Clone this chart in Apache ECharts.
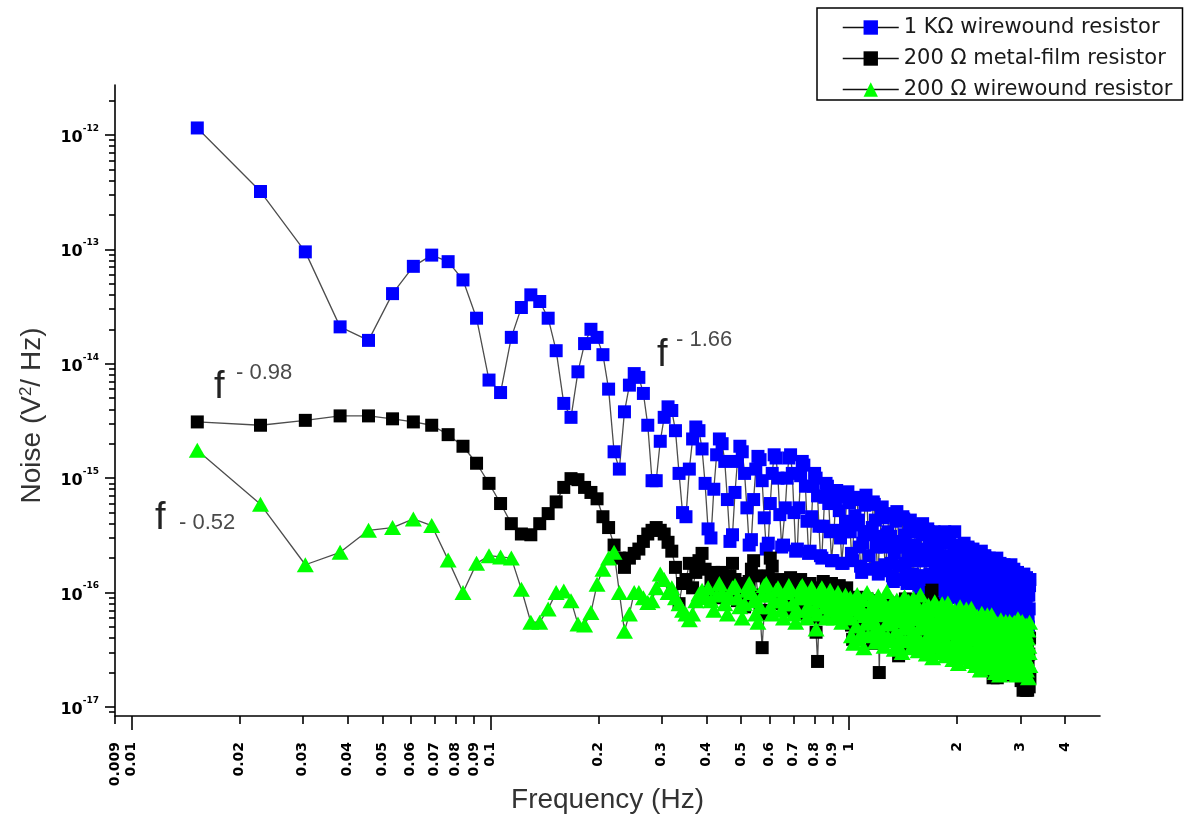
<!DOCTYPE html>
<html>
<head>
<meta charset="utf-8">
<script src="https://cdn.jsdelivr.net/npm/echarts@6/dist/echarts.min.js"></script>
<style>
html,body{margin:0;padding:0;background:#fff;}
#chart{width:1194px;height:816px;}
</style>
</head>
<body>
<div id="chart"></div>
<script>
// Frequency bins: uniform FFT grid, first plotted bin is bin #2
const BIN_WIDTH_HZ = 0.00763;
const FIRST_BIN = 2;

// 1 KΩ wirewound resistor (V^2/Hz), one value per bin
const blueNoise = [
1.15e-12,3.2e-13,9.5e-14,2.1e-14,1.6e-14,4.1e-14,7.1e-14,8.9e-14,7.8e-14,5.4e-14,2.5e-14,7.2e-15,5.6e-15,
1.7e-14,3.1e-14,4.0e-14,3.5e-14,2.5e-14,1.3e-14,4.5e-15,3.4e-15,8.5e-15,1.5e-14,2.0e-14,1.7e-14,1.2e-14,6.0e-15,1.7e-15,1.2e-15,3.8e-15,6.5e-15,8.2e-15,7.6e-15,5.5e-15,2.9e-15,9.5e-16,
9.5e-16,2.1e-15,3.4e-15,4.2e-15,3.9e-15,2.6e-15,1.1e-15,5.0e-16,
4.6e-16,1.2e-15,2.2e-15,2.8e-15,2.6e-15,1.8e-15,9.0e-16,3.6e-16,
3.0e-16,8.0e-16,1.6e-15,2.2e-15,2.0e-15,1.4e-15,6.5e-16,2.8e-16,
3.2e-16,7.5e-16,1.4e-15,1.9e-15,1.7e-15,1.1e-15,5.5e-16,2.6e-16,
2.9e-16,6.5e-16,1.2e-15,1.55e-15,1.45e-15,9.5e-16,4.5e-16,2.4e-16,
2.7e-16,6.0e-16,1.1e-15,1.6e-15,1.5e-15,1.0e-15,4.8e-16,2.5e-16,
2.6e-16,5.5e-16,1.0e-15,1.5e-15,1.6e-15,1.1e-15,5.0e-16,2.3e-16,
2.4e-16,5.5e-16,1.05e-15,1.4e-15,1.3e-15,8.5e-16,4.2e-16,2.2e-16,
2.3e-16,4.6e-16,8.5e-16,1.1e-15,1.0e-15,7.0e-16,3.8e-16,2.1e-16,
2.0e-16,3.8e-16,6.8e-16,9.0e-16,8.5e-16,6.0e-16,3.4e-16,1.9e-16,
1.9e-16,3.5e-16,6.0e-16,7.8e-16,7.4e-16,5.2e-16,3.0e-16,1.8e-16,
1.8e-16,3.4e-16,4.2e-16,6.8e-16,7.6e-16,6.1e-16,3.4e-16,2.2e-16,
1.9e-16,3.9e-16,4.7e-16,6.8e-16,6.5e-16,4.3e-16,2.5e-16,1.7e-16,
1.5e-16,2.7e-16,3.4e-16,5.8e-16,7.1e-16,6.1e-16,3.4e-16,2.1e-16,
1.6e-16,3.2e-16,3.7e-16,6.2e-16,5.9e-16,4.3e-16,2.5e-16,1.65e-16,
1.45e-16,2.8e-16,3.1e-16,5.0e-16,5.6e-16,4.5e-16,2.5e-16,1.75e-16,
1.55e-16,3.2e-16,3.4e-16,4.9e-16,4.7e-16,3.1e-16,1.8e-16,1.4e-16,
1.25e-16,2.2e-16,2.5e-16,4.2e-16,5.1e-16,4.4e-16,2.5e-16,1.7e-16,
1.3e-16,2.6e-16,2.8e-16,4.6e-16,4.4e-16,3.2e-16,1.8e-16,1.4e-16,
1.2e-16,2.3e-16,2.4e-16,3.9e-16,4.3e-16,3.4e-16,1.9e-16,1.45e-16,
1.25e-16,2.6e-16,2.6e-16,3.8e-16,3.6e-16,2.4e-16,1.4e-16,1.15e-16,
1.05e-16,1.9e-16,1.9e-16,3.2e-16,4.0e-16,3.4e-16,1.9e-16,1.4e-16,
1.1e-16,2.2e-16,2.2e-16,3.6e-16,3.4e-16,2.5e-16,1.45e-16,1.15e-16,
1.0e-16,1.9e-16,1.9e-16,3.1e-16,3.4e-16,2.7e-16,1.55e-16,1.2e-16,
1.08e-16,2.25e-16,2.1e-16,3.1e-16,3.0e-16,2.0e-16,1.15e-16,9.8e-17,
9.0e-17,1.6e-16,1.6e-16,2.7e-16,3.4e-16,2.9e-16,1.6e-16,1.25e-16,
9.7e-17,1.9e-16,1.8e-16,3.0e-16,2.9e-16,2.1e-16,1.2e-16,1.0e-16,
9.0e-17,1.7e-16,1.6e-16,2.6e-16,3.4e-16,2.3e-16,1.3e-16,1.1e-16,
9.6e-17,2.0e-16,1.75e-16,2.55e-16,2.4e-16,1.6e-16,9.5e-17,8.7e-17,
8.0e-17,1.45e-16,1.3e-16,2.2e-16,2.7e-16,2.35e-16,1.3e-16,1.1e-16,
8.6e-17,1.7e-16,1.5e-16,2.5e-16,2.4e-16,1.75e-16,1.0e-16,9.0e-17,
8.0e-17,1.5e-16,1.3e-16,2.15e-16,2.4e-16,1.9e-16,1.1e-16,9.6e-17,
8.6e-17,1.8e-16,1.5e-16,2.2e-16,2.05e-16,1.4e-16,8.0e-17,7.8e-17,
7.1e-17,1.3e-16,1.1e-16,1.9e-16,2.3e-16,2.0e-16,1.1e-16,9.8e-17,
7.7e-17,1.5e-16,1.25e-16,2.1e-16,2.0e-16,1.5e-16,8.4e-17,8.0e-17,
7.1e-17,1.35e-16,1.1e-16,1.8e-16,2.0e-16,1.6e-16,9.0e-17,8.5e-17,
7.6e-17,1.6e-16,1.3e-16,1.85e-16,1.75e-16,1.2e-16,6.8e-17,6.9e-17,
6.4e-17,1.15e-16,9.5e-17,1.6e-16,2.0e-16,1.7e-16,9.5e-17,8.7e-17,
6.8e-17,1.35e-16,1.1e-16,1.8e-16,1.7e-16,1.25e-16,7.2e-17,7.1e-17,
6.3e-17,1.2e-16,9.6e-17,1.6e-16,1.75e-16,1.4e-16,7.9e-17,7.6e-17,
6.7e-17,1.4e-16,1.1e-16,1.6e-16,1.55e-16,1.0e-16,6.0e-17,6.1e-17,
5.7e-17,1.0e-16,8.3e-17,1.4e-16,1.75e-16,1.5e-16,8.3e-17,7.8e-17,
6.1e-17,1.2e-16,9.6e-17,1.6e-16,1.5e-16,1.1e-16,6.4e-17,6.4e-17,
5.6e-17,1.05e-16,8.3e-17,1.35e-16,1.5e-16,1.2e-16,6.8e-17,6.7e-17,
6.0e-17,1.25e-16,9.4e-17,1.4e-16,1.3e-16,8.7e-17,5.1e-17,5.5e-17,
5.0e-17,9.0e-17,7.0e-17,1.2e-16,1.45e-16,1.25e-16,7.0e-17,6.9e-17,
5.5e-17,1.1e-16,8.1e-17,1.35e-16,1.3e-16,9.5e-17,5.4e-17,5.7e-17,
5.0e-17,9.5e-17,7.2e-17,1.15e-16,1.3e-16
];

// 200 Ω metal-film resistor (V^2/Hz)
const blackNoise = [
3.1e-15,2.9e-15,3.2e-15,3.5e-15,3.5e-15,3.3e-15,3.1e-15,2.9e-15,2.4e-15,1.9e-15,1.35e-15,9.0e-16,6.0e-16,4.0e-16,
3.25e-16,3.2e-16,4.0e-16,4.9e-16,6.2e-16,8.3e-16,9.9e-16,9.7e-16,8.3e-16,7.5e-16,6.6e-16,4.6e-16,3.7e-16,2.6e-16,2.0e-16,
1.66e-16,2.0e-16,2.2e-16,2.4e-16,2.8e-16,3.25e-16,3.5e-16,3.7e-16,3.5e-16,3.25e-16,2.75e-16,2.3e-16,1.66e-16,8.0e-17,1.2e-16,
1.3e-16,1.8e-16,1.1e-16,1.5e-16,1.9e-16,2.2e-16,1.6e-16,1.0e-16,1.3e-16,1.5e-16,
9.0e-17,1.2e-16,1.5e-16,1.1e-16,9.5e-17,1.4e-16,1.8e-16,1.3e-16,8.5e-17,1.0e-16,
1.2e-16,7.5e-17,9.0e-17,1.25e-16,1.6e-16,1.9e-16,1.4e-16,9.5e-17,6.5e-17,3.3e-17,
7.0e-17,1.1e-16,1.4e-16,2.0e-16,1.7e-16,1.2e-16,8.0e-17,9.5e-17,1.3e-16,1.1e-16,
8.5e-17,7.0e-17,1.0e-16,1.2e-16,1.35e-16,1.1e-16,9.0e-17,7.5e-17,8.5e-17,1.15e-16,
1.3e-16,1.0e-16,8.0e-17,6.5e-17,8.0e-17,1.0e-16,1.2e-16,1.05e-16,8.5e-17,6.0e-17,
4.5e-17,2.5e-17,6.0e-17,9.0e-17,1.1e-16,1.25e-16,1.0e-16,8.0e-17,7.0e-17,8.5e-17,
1.05e-16,1.2e-16,9.5e-17,7.5e-17,6.5e-17,8.0e-17,1.0e-16,1.15e-16,9.5e-17,7.5e-17,
6.0e-17,7.5e-17,9.0e-17,1.1e-16,9.0e-17,
6.5e-17,8.5e-17,5.2e-17,3.9e-17,7.2e-17,7.8e-17,5.9e-17,9.1e-17,4.9e-17,6.5e-17,7.5e-17,5.5e-17,8.1e-17,4.2e-17,6.8e-17,5.9e-17,8.8e-17,5.2e-17,7.2e-17,6.2e-17,7.0e-17,3.6e-17,5.5e-17,7.8e-17,4.6e-17,8.5e-17,5.8e-17,6.6e-17,2.0e-17,6.2e-17,
7.8e-17,4.8e-17,6.6e-17,4.2e-17,7.2e-17,5.4e-17,8.4e-17,4.5e-17,6.0e-17,6.9e-17,5.1e-17,7.5e-17,3.9e-17,6.3e-17,5.4e-17,8.1e-17,4.8e-17,6.6e-17,5.7e-17,2.8e-17,6.0e-17,7.4e-17,4.8e-17,6.6e-17,3.4e-17,7.2e-17,5.4e-17,8.8e-17,4.5e-17,6.0e-17,6.9e-17,5.1e-17,7.0e-17,3.9e-17,6.3e-17,5.4e-17,8.6e-17,4.8e-17,6.6e-17,5.7e-17,
5.5e-17,7.2e-17,4.4e-17,6.1e-17,3.9e-17,6.6e-17,5.0e-17,7.7e-17,4.1e-17,5.5e-17,6.3e-17,4.7e-17,6.9e-17,3.3e-17,5.8e-17,5.0e-17,7.4e-17,4.4e-17,6.0e-17,7.0e-17,8.5e-17,1.0e-16,1.05e-16,8.0e-17,5.2e-17,5.0e-17,7.7e-17,4.1e-17,5.5e-17,3.3e-17,6.3e-17,4.7e-17,6.9e-17,3.6e-17,5.8e-17,5.0e-17,7.4e-17,4.4e-17,6.1e-17,5.2e-17,
4.8e-17,6.2e-17,3.8e-17,5.3e-17,3.4e-17,5.8e-17,4.3e-17,6.7e-17,3.6e-17,4.8e-17,5.5e-17,4.1e-17,6.0e-17,3.1e-17,5.0e-17,4.3e-17,6.5e-17,3.8e-17,5.3e-17,4.6e-17,6.2e-17,3.8e-17,5.3e-17,3.4e-17,5.8e-17,4.3e-17,6.7e-17,3.6e-17,4.8e-17,5.5e-17,4.1e-17,6.0e-17,3.1e-17,5.0e-17,4.3e-17,6.5e-17,3.8e-17,5.3e-17,4.6e-17,4.4e-17,
4.2e-17,5.5e-17,3.4e-17,4.6e-17,2.9e-17,5.0e-17,3.8e-17,5.9e-17,3.2e-17,4.2e-17,4.8e-17,3.6e-17,5.3e-17,2.7e-17,4.4e-17,3.8e-17,5.7e-17,3.4e-17,4.6e-17,4.0e-17,5.5e-17,3.4e-17,4.6e-17,2.9e-17,5.0e-17,3.8e-17,5.9e-17,3.2e-17,4.2e-17,4.8e-17,3.6e-17,5.3e-17,2.7e-17,4.4e-17,3.8e-17,5.7e-17,3.4e-17,4.6e-17,4.0e-17,2.2e-17,
3.6e-17,4.7e-17,2.9e-17,4.0e-17,2.5e-17,4.3e-17,3.2e-17,5.0e-17,2.7e-17,1.8e-17,4.1e-17,3.1e-17,4.5e-17,2.3e-17,3.8e-17,3.2e-17,4.9e-17,2.9e-17,1.8e-17,3.4e-17,4.7e-17,2.9e-17,4.0e-17,2.5e-17,4.3e-17,3.2e-17,5.0e-17,2.7e-17,3.6e-17,4.1e-17,3.1e-17,4.5e-17,2.3e-17,3.8e-17,3.2e-17,4.9e-17,2.9e-17,4.0e-17,3.4e-17,3.0e-17,
3.0e-17,3.9e-17,2.4e-17,3.3e-17,2.1e-17,3.6e-17,2.7e-17,4.2e-17,2.3e-17,3.0e-17,3.5e-17,2.6e-17,3.8e-17,1.9e-17,3.2e-17,2.7e-17,4.1e-17,2.4e-17,3.3e-17,2.9e-17,3.9e-17,2.4e-17,3.3e-17,2.1e-17,3.6e-17,2.7e-17,4.2e-17,2.3e-17,3.0e-17,3.5e-17,
2.4e-17,3.1e-17,1.9e-17,2.6e-17,1.7e-17,2.9e-17,2.2e-17,3.4e-17,1.8e-17,1.4e-17,2.8e-17,2.0e-17,3.0e-17,1.5e-17,2.6e-17,2.2e-17,3.3e-17,1.4e-17,2.6e-17,2.3e-17,3.1e-17,1.4e-17,2.6e-17,1.7e-17,2.9e-17,1.5e-17,4.0e-17,1.8e-17
];

// 200 Ω wirewound resistor (V^2/Hz)
const greenNoise = [
1.75e-15,5.9e-16,1.75e-16,2.25e-16,3.5e-16,3.7e-16,4.4e-16,3.85e-16,1.93e-16,1.0e-16,1.8e-16,2.1e-16,2.05e-16,2.0e-16,
1.07e-16,5.5e-17,5.5e-17,7.2e-17,1.0e-16,1.03e-16,8.5e-17,5.3e-17,5.2e-17,6.7e-17,1.18e-16,1.6e-16,2.0e-16,2.25e-16,1.0e-16,4.6e-17,6.5e-17,1.0e-16,1.0e-16,9.0e-17,8.2e-17,8.5e-17,
1.1e-16,1.45e-16,1.3e-16,1.0e-16,1.1e-16,9.0e-17,8.0e-17,7.0e-17,6.5e-17,5.8e-17,
6.5e-17,8.5e-17,9.7e-17,1.05e-16,9.0e-17,1.1e-16,8.5e-17,7.0e-17,9.5e-17,1.2e-16,
1.0e-16,8.0e-17,6.5e-17,9.0e-17,1.1e-16,1.15e-16,9.0e-17,7.5e-17,6.0e-17,8.0e-17,
1.05e-16,1.2e-16,1.0e-16,8.5e-17,6.5e-17,5.5e-17,7.5e-17,9.5e-17,1.15e-16,1.2e-16,
9.5e-17,7.5e-17,6.5e-17,8.5e-17,1.05e-16,1.1e-16,8.5e-17,7.0e-17,6.0e-17,8.0e-17,
1.0e-16,1.15e-16,1.05e-16,8.0e-17,6.5e-17,5.5e-17,7.0e-17,9.0e-17,1.1e-16,1.15e-16,
9.0e-17,7.0e-17,6.0e-17,7.5e-17,9.5e-17,1.1e-16,9.0e-17,7.0e-17,4.8e-17,6.5e-17,
8.5e-17,1.05e-16,1.1e-16,9.0e-17,7.5e-17,6.0e-17,7.5e-17,9.5e-17,1.05e-16,8.5e-17,
7.0e-17,6.0e-17,7.0e-17,9.0e-17,1.0e-16,8.5e-17,7.0e-17,5.5e-17,6.5e-17,8.5e-17,
9.5e-17,8.0e-17,6.5e-17,
6.0e-17,9.0e-17,4.2e-17,7.2e-17,3.6e-17,8.1e-17,5.1e-17,9.6e-17,3.9e-17,6.6e-17,7.5e-17,4.5e-17,8.7e-17,3.3e-17,6.3e-17,5.4e-17,1.0e-16,4.2e-17,6.9e-17,5.7e-17,
6.2e-17,8.8e-17,4.4e-17,7.0e-17,3.7e-17,8.3e-17,5.0e-17,9.4e-17,4.0e-17,6.5e-17,7.7e-17,4.4e-17,8.5e-17,3.4e-17,6.4e-17,5.3e-17,1.02e-16,4.1e-17,7.0e-17,5.6e-17,
5.4e-17,8.1e-17,3.8e-17,6.5e-17,3.2e-17,7.3e-17,4.6e-17,8.6e-17,3.5e-17,5.9e-17,6.8e-17,4.1e-17,7.8e-17,3.0e-17,5.7e-17,4.9e-17,9.2e-17,3.8e-17,6.2e-17,5.1e-17,
5.6e-17,8.4e-17,3.9e-17,6.3e-17,3.3e-17,7.6e-17,4.4e-17,8.9e-17,3.6e-17,6.1e-17,7.0e-17,4.2e-17,7.5e-17,3.1e-17,5.9e-17,5.0e-17,9.5e-17,3.7e-17,6.4e-17,5.2e-17,
4.9e-17,7.4e-17,3.4e-17,5.9e-17,2.9e-17,6.6e-17,4.2e-17,7.8e-17,3.2e-17,5.4e-17,6.1e-17,3.7e-17,7.1e-17,2.7e-17,5.1e-17,4.4e-17,8.3e-17,3.4e-17,5.6e-17,4.7e-17,
5.0e-17,7.2e-17,3.5e-17,6.0e-17,3.0e-17,6.4e-17,4.3e-17,8.0e-17,3.1e-17,5.5e-17,6.2e-17,3.6e-17,7.3e-17,2.8e-17,5.2e-17,4.5e-17,8.1e-17,3.5e-17,5.7e-17,4.6e-17,
4.4e-17,6.6e-17,3.1e-17,5.3e-17,2.6e-17,5.9e-17,3.7e-17,7.0e-17,2.9e-17,4.8e-17,5.5e-17,3.3e-17,6.4e-17,2.4e-17,4.6e-17,4.0e-17,7.5e-17,3.1e-17,5.1e-17,4.2e-17,
4.5e-17,6.4e-17,3.2e-17,5.4e-17,2.7e-17,6.0e-17,3.6e-17,7.2e-17,2.8e-17,4.9e-17,5.6e-17,3.2e-17,6.2e-17,2.5e-17,4.7e-17,3.9e-17,7.3e-17,3.0e-17,5.2e-17,4.1e-17,
3.9e-17,5.9e-17,2.7e-17,4.7e-17,2.3e-17,5.3e-17,3.3e-17,6.2e-17,2.5e-17,4.3e-17,4.9e-17,2.9e-17,5.7e-17,2.1e-17,4.1e-17,3.5e-17,6.6e-17,2.7e-17,4.5e-17,3.7e-17,
4.0e-17,5.7e-17,2.8e-17,4.8e-17,2.4e-17,5.1e-17,3.4e-17,6.4e-17,2.6e-17,4.2e-17,5.0e-17,3.0e-17,5.5e-17,2.2e-17,4.2e-17,3.6e-17,6.4e-17,2.8e-17,4.4e-17,3.8e-17,
3.4e-17,5.1e-17,2.4e-17,4.1e-17,2.0e-17,4.6e-17,2.9e-17,5.4e-17,2.2e-17,3.7e-17,4.3e-17,2.6e-17,4.9e-17,1.9e-17,3.6e-17,3.1e-17,5.8e-17,2.4e-17,3.9e-17,3.2e-17,
3.5e-17,5.0e-17,2.5e-17,4.2e-17,2.1e-17,4.5e-17,3.0e-17,5.6e-17,2.3e-17,3.8e-17,4.4e-17,2.5e-17,4.8e-17,2.0e-17,3.7e-17,3.0e-17,5.6e-17,2.3e-17,4.0e-17,3.3e-17,
3.5e-17,5.3e-17,2.4e-17,4.2e-17,2.0e-17,4.7e-17,3.0e-17,5.5e-17,2.3e-17,3.8e-17,4.3e-17,2.6e-17,5.0e-17,1.9e-17,3.6e-17,3.1e-17,5.9e-17,2.4e-17,4.0e-17,3.4e-17,
3.6e-17,5.0e-17,2.5e-17,4.3e-17,2.2e-17,4.6e-17,2.9e-17,5.6e-17,2.3e-17,3.7e-17,
3.3e-17,4.9e-17,2.3e-17,3.9e-17,2.0e-17,4.4e-17,2.7e-17,5.2e-17,2.1e-17,3.6e-17,4.0e-17,2.5e-17,4.7e-17,1.8e-17,3.4e-17,3.0e-17,5.5e-17,2.3e-17
];

const seriesNames = ['1 KΩ wirewound resistor', '200 Ω metal-film resistor', '200 Ω wirewound resistor'];

const xTickLabels = [0.009,0.01,0.02,0.03,0.04,0.05,0.06,0.07,0.08,0.09,0.1,0.2,0.3,0.4,0.5,0.6,0.7,0.8,0.9,1,2,3,4];
const xMajorTicks = [0.01,0.1,1];
const xMinorTicks = [0.009,0.02,0.03,0.04,0.05,0.06,0.07,0.08,0.09,0.2,0.3,0.4,0.5,0.6,0.7,0.8,0.9,2,3,4];
const yTickLabels = [1e-17,1e-16,1e-15,1e-14,1e-13,1e-12];
const yMinorTicks = [9e-18,
  2e-17,3e-17,4e-17,5e-17,6e-17,7e-17,8e-17,9e-17,
  2e-16,3e-16,4e-16,5e-16,6e-16,7e-16,8e-16,9e-16,
  2e-15,3e-15,4e-15,5e-15,6e-15,7e-15,8e-15,9e-15,
  2e-14,3e-14,4e-14,5e-14,6e-14,7e-14,8e-14,9e-14,
  2e-13,3e-13,4e-13,5e-13,6e-13,7e-13,8e-13,9e-13,
  2e-12];

const X_MIN = 0.009, X_MAX = 5;
const Y_MIN = 8.34e-18, Y_MAX = 2.73e-12;

const frequencyHz = blueNoise.map((_, i) => (i + FIRST_BIN) * BIN_WIDTH_HZ);
const toPairs = arr => arr.map((v, i) => [frequencyHz[i], v]);

const chart = echarts.init(document.getElementById('chart'), null, {renderer: 'canvas'});

const tickLine = {color: '#000', width: 1.6};
const option = {
  animation: false,
  backgroundColor: '#fff',
  grid: {left: 115, right: 94, top: 85, bottom: 100, containLabel: false, outerBoundsMode: 'none'},
  legend: {
    orient: 'vertical', left: 817, top: 8,
    padding: [9, 10, 0, 25],
    itemWidth: 56, itemHeight: 18, itemGap: 10,
    borderColor: '#000', borderWidth: 1.5, backgroundColor: '#fff',
    lineStyle: {color: '#111', width: 1.5},
    textStyle: {fontFamily: 'DejaVu Sans', fontSize: 21, color: '#1a1a1a', lineHeight: 20},
    data: seriesNames
  },
  xAxis: [{
    type: 'log', min: X_MIN, max: X_MAX, position: 'bottom',
    axisLine: {show: true, lineStyle: tickLine},
    axisTick: {show: true, customValues: xMajorTicks, length: 14, lineStyle: tickLine},
    axisLabel: {show: true, customValues: xTickLabels, rotate: 90, margin: 26,
      formatter: v => String(v), fontFamily: 'DejaVu Sans', fontWeight: 'bold', fontSize: 14, color: '#000'},
    splitLine: {show: false}, minorTick: {show: false},
    name: 'Frequency (Hz)', nameLocation: 'middle', nameGap: 70, nameMoveOverlap: false,
    nameTextStyle: {fontFamily: 'Liberation Sans', fontSize: 28, color: '#333'}
  }, {
    type: 'log', min: X_MIN, max: X_MAX, position: 'bottom',
    axisLine: {show: false},
    axisTick: {show: true, customValues: xMinorTicks, length: 8, lineStyle: tickLine},
    axisLabel: {show: false}, splitLine: {show: false}
  }],
  yAxis: [{
    type: 'log', min: Y_MIN, max: Y_MAX, position: 'left',
    axisLine: {show: true, lineStyle: tickLine},
    axisTick: {show: true, customValues: yTickLabels, length: 10, lineStyle: tickLine},
    axisLabel: {show: true, customValues: yTickLabels, margin: 16,
      formatter: v => '{b|10}{s|' + Math.round(Math.log10(v)) + '}',
      rich: {
        b: {fontFamily: 'DejaVu Sans', fontWeight: 'bold', fontSize: 16, color: '#000', padding: [6, 0, 0, 0], verticalAlign: 'bottom'},
        s: {fontFamily: 'DejaVu Sans', fontWeight: 'bold', fontSize: 9, color: '#000', verticalAlign: 'top'}
      }},
    splitLine: {show: false}, minorTick: {show: false},
    name: 'Noise (V{sup|2}/ Hz)', nameLocation: 'middle', nameGap: 69, nameMoveOverlap: false,
    nameTextStyle: {fontFamily: 'Liberation Sans', fontSize: 28, color: '#333', padding: [0, 30, 0, 0],
      rich: {sup: {fontFamily: 'Liberation Sans', fontSize: 17, color: '#333', verticalAlign: 'top'}}}
  }, {
    type: 'log', min: Y_MIN, max: Y_MAX, position: 'left',
    axisLine: {show: false},
    axisTick: {show: true, customValues: yMinorTicks, length: 6, lineStyle: tickLine},
    axisLabel: {show: false}, splitLine: {show: false}
  }],
  series: [{
    name: seriesNames[0], type: 'line', xAxisIndex: 0, yAxisIndex: 0,
    data: toPairs(blueNoise), symbol: 'rect', symbolSize: 13, showAllSymbol: true,
    lineStyle: {color: '#4d4d4d', width: 1.3}, itemStyle: {color: '#0000ff'}
  }, {
    name: seriesNames[1], type: 'line', xAxisIndex: 0, yAxisIndex: 0,
    data: toPairs(blackNoise), symbol: 'rect', symbolSize: 13, showAllSymbol: true,
    lineStyle: {color: '#4d4d4d', width: 1.3}, itemStyle: {color: '#000000'}
  }, {
    name: seriesNames[2], type: 'line', xAxisIndex: 0, yAxisIndex: 0,
    data: toPairs(greenNoise), symbol: 'triangle', symbolSize: [17, 15], showAllSymbol: true,
    lineStyle: {color: '#4d4d4d', width: 1.3}, itemStyle: {color: '#00ff00'}
  }],
  graphic: [
    {type: 'text', left: 214, top: 369, style: {text: 'f', font: '38px "Liberation Sans"', fill: '#222'}},
    {type: 'text', left: 236, top: 362, style: {text: '- 0.98', font: '22px "Liberation Sans"', fill: '#4a4a4a'}},
    {type: 'text', left: 657, top: 337, style: {text: 'f', font: '38px "Liberation Sans"', fill: '#222'}},
    {type: 'text', left: 676, top: 329, style: {text: '- 1.66', font: '22px "Liberation Sans"', fill: '#4a4a4a'}},
    {type: 'text', left: 155, top: 500, style: {text: 'f', font: '38px "Liberation Sans"', fill: '#222'}},
    {type: 'text', left: 179, top: 512, style: {text: '- 0.52', font: '22px "Liberation Sans"', fill: '#4a4a4a'}}
  ]
};
chart.setOption(option);
</script>
</body>
</html>
